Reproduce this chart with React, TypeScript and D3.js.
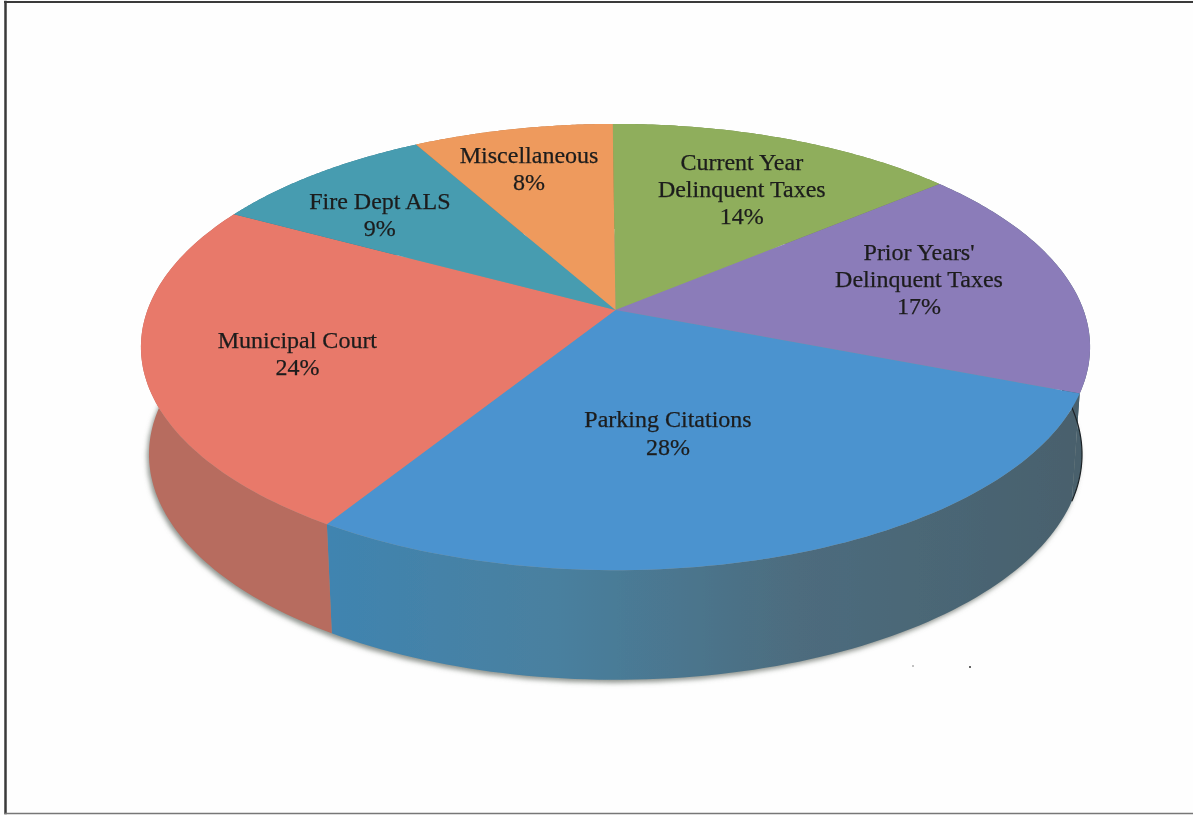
import { useEffect, useRef } from 'react';
import * as d3 from 'd3';

const labels = [
    ['Current Year', 'Delinquent Taxes'],
    ["Prior Years'", 'Delinquent Taxes'],
    ['Parking Citations'],
    ['Municipal Court'],
    ['Fire Dept ALS'],
    ['Miscellaneous']
];
const values = [14, 17, 28, 24, 9, 8];
const topColors = ['#8fae5c', '#8b7cb9', '#4c93cf', '#e8796b', '#479cb0', '#ee9a5d'];
const sideColors = ['#6f8748', '#48606c', 'url(#blueSide)', '#b76c5e', '#37798a', '#b87748'];

// label nudges from the slice centroid, in px
const labelDx = [15, 22, -49, -30, -43, -19];
const labelDy = [-9, -9, -18, 9, -7, -23];

const W = 1193;
const H = 815;
const x0 = 615.5;
const y0 = 310;
const A = 468;
const B = 217;
const k = 0.166;
const bottomScaleX = 0.983;
const bottomScaleY = 1.01;
const bottomY = 417;
const rotation = -0.4 * Math.PI / 180;

// perspective projection of the unit disc onto the top face
const project = (a: number, r: number): [number, number] => {
    const u = r * Math.sin(a);
    const v = -r * Math.cos(a);
    const w = 1 - k * v;
    return [x0 + A * u / w, y0 + B * v / w];
};
const toBottom = (p: [number, number]): [number, number] => [
    x0 + bottomScaleX * (p[0] - x0),
    bottomY + bottomScaleY * (p[1] - y0)
];

const arcPoints = (a0: number, a1: number) => d3.range(0, 81).map((i) => project(a0 + (a1 - a0) * i / 80, 1));

const App = () => {
    const ref = useRef<SVGSVGElement | null>(null);

    useEffect(() => {
        const svg = d3.select(ref.current);
        svg.selectAll('*').remove();

        const defs = svg.append('defs');
        defs.append('filter').attr('id', 'soft').append('feGaussianBlur').attr('stdDeviation', 0.5);
        defs.append('filter').attr('id', 'shadow').attr('x', '-5%').attr('y', '-5%').attr('width', '110%').attr('height', '110%')
            .append('feGaussianBlur').attr('stdDeviation', 2.5);
        const grad = defs.append('linearGradient').attr('id', 'blueSide')
            .attr('gradientUnits', 'userSpaceOnUse')
            .attr('x1', 330).attr('x2', 1085).attr('y1', 0).attr('y2', 0);
        [[0, '#4084b0'], [0.3, '#49809f'], [0.62, '#4d6c7e'], [1, '#48606c']].forEach((s) => {
            grad.append('stop').attr('offset', s[0] as number).attr('stop-color', s[1] as string);
        });

        svg.append('rect').attr('width', W).attr('height', H).attr('fill', '#fefefe');

        // scanned frame
        const frame = svg.append('g').attr('stroke-linecap', 'square');
        frame.append('line').attr('x1', 5.5).attr('x2', 5.5).attr('y1', 2).attr('y2', 813).attr('stroke', '#3a3a3a').attr('stroke-width', 2.5);
        frame.append('line').attr('x1', 5).attr('x2', W).attr('y1', 2).attr('y2', 2).attr('stroke', '#3a3a3a').attr('stroke-width', 2);
        frame.append('line').attr('x1', 5).attr('x2', W).attr('y1', 813.5).attr('y2', 813.5).attr('stroke', '#777').attr('stroke-width', 1.5);

        // specks on the scan
        svg.append('circle').attr('cx', 913).attr('cy', 666).attr('r', 0.8).attr('fill', '#777');
        svg.append('circle').attr('cx', 970).attr('cy', 667).attr('r', 1).attr('fill', '#333');

        const pie = d3.pie<number>().value((d) => d).sort(null)
            .startAngle(rotation).endAngle(2 * Math.PI + rotation);
        const slices = pie(values);
        const line = d3.line();
        const chart = svg.append('g').attr('filter', 'url(#soft)');

        // soft shadow under the disc
        const rim = arcPoints(0, 2 * Math.PI).map(toBottom);
        chart.append('path')
            .attr('d', line(rim) + 'Z')
            .attr('fill', '#8d938d')
            .attr('transform', 'translate(-2,3)')
            .attr('filter', 'url(#shadow)');

        // side walls
        chart.selectAll('path.side')
            .data(slices)
            .enter()
            .append('path')
            .attr('class', 'side')
            .attr('d', (d) => {
                const pts = arcPoints(d.startAngle, d.endAngle);
                return line(pts.concat(pts.map(toBottom).reverse())) + 'Z';
            })
            .attr('fill', (d, i) => sideColors[i]);

        // dark outer edge on the right of the wall
        chart.append('path')
            .attr('d', line(arcPoints(slices[1].startAngle, slices[1].endAngle).map(toBottom)))
            .attr('fill', 'none')
            .attr('stroke', '#1c2226')
            .attr('stroke-width', 1.2);

        // top face
        chart.selectAll('path.top')
            .data(slices)
            .enter()
            .append('path')
            .attr('class', 'top')
            .attr('d', (d) => line([[x0, y0] as [number, number]].concat(arcPoints(d.startAngle, d.endAngle))) + 'Z')
            .attr('fill', (d, i) => topColors[i]);

        // data labels
        const text = svg.append('g')
            .attr('font-family', '"Liberation Serif", serif')
            .attr('font-size', 24)
            .attr('fill', '#1c1c1c')
            .attr('stroke', '#1c1c1c')
            .attr('stroke-width', 0.25)
            .attr('text-anchor', 'middle')
            .attr('filter', 'url(#soft)');
        slices.forEach((d, i) => {
            const p = project((d.startAngle + d.endAngle) / 2, 0.62);
            const lines = labels[i].concat(values[i] + '%');
            const t = text.append('text');
            lines.forEach((l, j) => {
                t.append('tspan')
                    .attr('x', p[0] + labelDx[i])
                    .attr('y', p[1] + labelDy[i] + 7.5 + (j - (lines.length - 1) / 2) * 27.3)
                    .text(l);
            });
        });
    }, []);

    return <svg ref={ref} width={W} height={H} style={{ position: 'absolute', left: 0, top: 0 }} />;
};

export default App;
